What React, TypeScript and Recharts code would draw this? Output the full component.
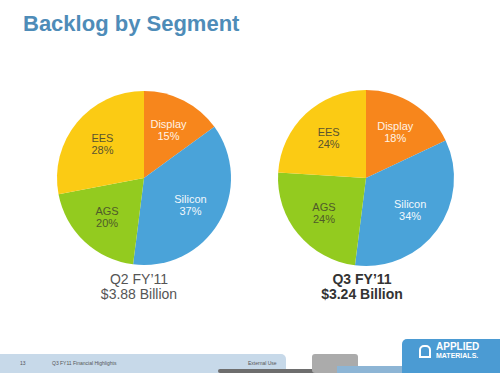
import React from "react";
import { PieChart, Pie, Cell } from "recharts";

const segments = ["Display", "Silicon", "AGS", "EES"];
const q2Share = [15, 37, 20, 28];
const q3Share = [18, 34, 24, 24];
const periodLabels = ["Q2 FY\u201911", "Q3 FY\u201911"];
const backlogTotals = ["$3.88 Billion", "$3.24 Billion"];

const sliceColors = ["#F7861C", "#4AA3D9", "#93CB1F", "#FBCB14"];
const labelColors = ["#FFF3E6", "#F2F8FC", "#4F5A2A", "#5A5430"];

const RADIAN = Math.PI / 180;
const FONT = "'Liberation Sans', Arial, sans-serif";

const toRows = (values: number[]) =>
  segments.map((name, i) => ({ name, value: values[i] }));

const q2Data = toRows(q2Share);
const q3Data = toRows(q3Share);

function renderLabel(props: any) {
  const { cx, cy, midAngle, outerRadius, name, value, index } = props;
  const r = outerRadius * 0.62;
  const x = cx + r * Math.cos(-midAngle * RADIAN);
  const y = cy + r * Math.sin(-midAngle * RADIAN);
  return (
    <text
      x={x}
      y={y}
      textAnchor="middle"
      fill={labelColors[index]}
      fontFamily={FONT}
      fontSize={11}
    >
      <tspan x={x} dy={-2}>{name}</tspan>
      <tspan x={x} dy={12}>{`${value}%`}</tspan>
    </text>
  );
}

function Caption({ idx, left, bold }: { idx: number; left: number; bold?: boolean }) {
  return (
    <div
      style={{
        position: "absolute",
        left: left - 60,
        top: 272,
        width: 120,
        textAlign: "center",
        fontFamily: FONT,
        fontSize: 14,
        lineHeight: "15px",
        fontWeight: bold ? "bold" : "normal",
        color: bold ? "#333333" : "#555555",
      }}
    >
      <div>{periodLabels[idx]}</div>
      <div>{backlogTotals[idx]}</div>
    </div>
  );
}

export default function App() {
  return (
    <div
      style={{
        position: "absolute",
        left: 0,
        top: 0,
        width: 500,
        height: 373,
        background: "#ffffff",
        overflow: "hidden",
      }}
    >
      <div
        style={{
          position: "absolute",
          left: 23,
          top: 11,
          fontFamily: FONT,
          fontWeight: "bold",
          fontSize: 22,
          color: "#4E8CB8",
        }}
      >
        Backlog by Segment
      </div>

      <div style={{ position: "absolute", left: 0, top: 0 }}>
        <PieChart width={500} height={373}>
          <Pie
            data={q2Data}
            dataKey="value"
            nameKey="name"
            cx={139}
            cy={173}
            outerRadius={87}
            startAngle={90}
            endAngle={-270}
            stroke="none"
            labelLine={false}
            label={renderLabel}
            isAnimationActive={false}
          >
            {q2Data.map((_e, i) => (
              <Cell key={`q2-${i}`} fill={sliceColors[i]} />
            ))}
          </Pie>
          <Pie
            data={q3Data}
            dataKey="value"
            nameKey="name"
            cx={361}
            cy={173}
            outerRadius={88}
            startAngle={90}
            endAngle={-270}
            stroke="none"
            labelLine={false}
            label={renderLabel}
            isAnimationActive={false}
          >
            {q3Data.map((_e, i) => (
              <Cell key={`q3-${i}`} fill={sliceColors[i]} />
            ))}
          </Pie>
        </PieChart>
      </div>

      <Caption idx={0} left={139} />
      <Caption idx={1} left={362} bold />

      {/* footer strip */}
      <div
        style={{
          position: "absolute",
          left: 0,
          top: 354,
          width: 286,
          height: 19,
          background: "#C7D9E9",
          borderTopRightRadius: 5,
        }}
      />
      <div style={{ position: "absolute", left: 20, top: 360, fontFamily: FONT, fontSize: 5, color: "#555" }}>13</div>
      <div style={{ position: "absolute", left: 52, top: 360, fontFamily: FONT, fontSize: 5, color: "#555" }}>
        Q3 FY11 Financial Highlights
      </div>
      <div style={{ position: "absolute", left: 248, top: 360, fontFamily: FONT, fontSize: 5, color: "#555" }}>
        External Use
      </div>
      <div style={{ position: "absolute", left: 218, top: 369, width: 106, height: 4, background: "#6E6E6E", borderRadius: 2 }} />
      <div style={{ position: "absolute", left: 312, top: 354, width: 46, height: 19, background: "#ABABAB", borderRadius: 3 }} />
      <div style={{ position: "absolute", left: 337, top: 366, width: 70, height: 7, background: "#8DB5D5" }} />
      <div
        style={{
          position: "absolute",
          left: 402,
          top: 339,
          width: 98,
          height: 34,
          background: "#4B9BD3",
          borderTopLeftRadius: 5,
        }}
      />
      <div
        style={{
          position: "absolute",
          left: 419,
          top: 345,
          width: 12,
          height: 13,
          border: "2px solid #ffffff",
          borderRadius: "5px 5px 0 0",
          boxSizing: "border-box",
        }}
      />
      <div
        style={{
          position: "absolute",
          left: 436,
          top: 342,
          fontFamily: FONT,
          fontWeight: "bold",
          color: "#ffffff",
        }}
      >
        <div style={{ fontSize: 10, lineHeight: "10px" }}>APPLIED</div>
        <div style={{ fontSize: 7, lineHeight: "8px" }}>MATERIALS.</div>
      </div>
    </div>
  );
}
